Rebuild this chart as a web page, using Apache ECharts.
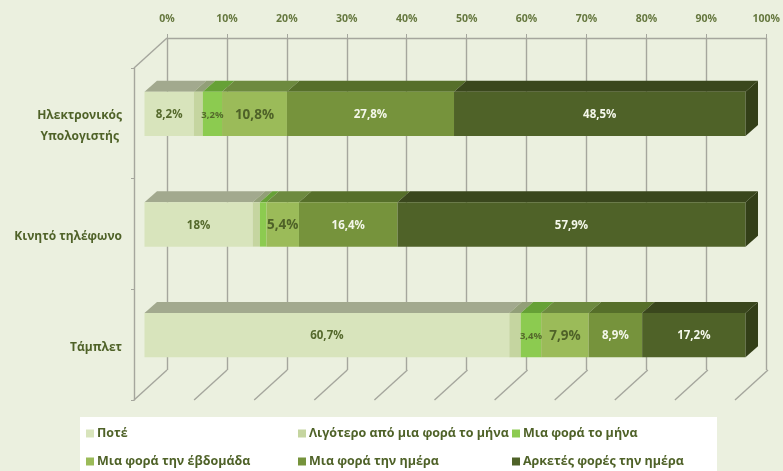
<!DOCTYPE html>
<html>
<head>
<meta charset="utf-8">
<script src="https://cdn.jsdelivr.net/npm/echarts@6/dist/echarts.min.js"></script>
<style>html,body{margin:0;padding:0;background:#ebf0df}#c{width:783px;height:471px}</style>
</head>
<body>
<div id="c"></div>
<script>
const categories = ['Ηλεκτρονικός\nΥπολογιστής\u00a0', 'Κινητό τηλέφωνο', 'Τάμπλετ'];
const xTicks = [0, 10, 20, 30, 40, 50, 60, 70, 80, 90, 100];
const never = [8.2, 18, 60.7];
const lessThanMonthly = [1.5, 1.2, 1.9];
const monthly = [3.2, 1.1, 3.4];
const weekly = [10.8, 5.4, 7.9];
const daily = [27.8, 16.4, 8.9];
const severalDaily = [48.5, 57.9, 17.2];
const labelled = [[true, true, true], [false, false, false], [true, false, true], [true, true, true], [true, true, true], [true, true, true]];
const names = ['Ποτέ', 'Λιγότερο από μια φορά το μήνα', 'Μια φορά το μήνα', 'Μια φορά την έβδομάδα', 'Μια φορά την ημέρα', 'Αρκετές φορές την ημέρα'];
const values = [never, lessThanMonthly, monthly, weekly, daily, severalDaily];
const front = ['#d8e4bc', '#c5d5a0', '#8ccb50', '#9bbb59', '#76933c', '#4f6228'];
const top_ = ['#a2a98e', '#929f78', '#66a136', '#6d8a3f', '#566f2a', '#3a471d'];
const labelColor = ['#55692c', '#55692c', '#55692c', '#4f6228', '#f4f7ea', '#f4f7ea'];
const labelSize = [11.5, 11.5, 9.5, 13.5, 11.5, 11.5];
const FONT = '"Open Sans", "Noto Sans", sans-serif';
const DX = 12.5, DY = 11, FX = 10.5, FY = 9.5;
const GRID_LINE = '#a5a69d';

function fmt(v) { return String(v).replace('.', ',') + '%'; }

const barSeries = names.map((name, s) => ({
  name, type: 'custom', xAxisIndex: 1, yAxisIndex: 1, z: 5,
  itemStyle: { color: front[s] },
  data: categories.map((c, i) => {
    let start = 0;
    for (let k = 0; k < s; k++) start += values[k][i];
    return [start, i, values[s][i], labelled[s][i] ? 1 : 0];
  }),
  encode: { x: 0, y: 1 },
  renderItem(params, api) {
    const x0v = api.value(0), cat = api.value(1), val = api.value(2), lab = api.value(3);
    const a = api.coord([x0v, cat]), b = api.coord([x0v + val, cat]);
    const h = api.size([0, 1])[1] * 0.4;
    const x0 = a[0] + FX, x1 = b[0] + FX, yt = a[1] - FY - h / 2, yb = yt + h;
    const children = [
      { type: 'polygon', shape: { points: [[x0, yt], [x1, yt], [x1 + DX, yt - DY], [x0 + DX, yt - DY]] }, style: { fill: top_[s] } },
      { type: 'rect', shape: { x: x0, y: yt, width: x1 - x0, height: h }, style: { fill: front[s] } }
    ];
    if (s === names.length - 1) {
      children.push({ type: 'polygon', shape: { points: [[x1, yt], [x1 + DX, yt - DY], [x1 + DX, yb - DY], [x1, yb]] }, style: { fill: '#333f18' } });
    }
    if (lab) {
      children.push({ type: 'text', z2: 10, style: { text: fmt(val), x: (x0 + x1) / 2, y: (yt + yb) / 2 + 1, align: 'center', verticalAlign: 'middle', fill: labelColor[s], font: '700 ' + labelSize[s] + 'px ' + FONT } });
    }
    return { type: 'group', children };
  }
}));

const frameSeries = {
  type: 'custom', xAxisIndex: 1, yAxisIndex: 1, z: 1, silent: true,
  data: xTicks.map(v => [v]),
  encode: { x: 0 },
  renderItem(params, api) {
    const v = api.value(0), cs = params.coordSys;
    const x = api.coord([v, 0])[0];
    const yb = cs.y + cs.height;
    const st = { stroke: GRID_LINE, lineWidth: 1.4 };
    const kids = [{ type: 'line', shape: { x1: x, y1: yb, x2: x + 33, y2: yb - 30 }, style: st }];
    if (v === 0) kids.push({ type: 'line', shape: { x1: x, y1: cs.y, x2: x + 33, y2: cs.y - 30 }, style: st });
    return { type: 'group', children: kids };
  }
};

const legendBase = { orient: 'vertical', padding: 0, itemWidth: 8, itemHeight: 8, itemGap: 15, icon: 'rect',
  textStyle: { color: '#4f6228', fontSize: 12.5, fontWeight: 700, fontFamily: FONT, padding: [0, 0, 0, -2] } };

const chart = echarts.init(document.getElementById('c'));
chart.setOption({
  animation: false,
  backgroundColor: '#ebf0df',
  graphic: [{ type: 'rect', z: -1, shape: { x: 80, y: 417, width: 637, height: 54 }, style: { fill: '#ffffff' } }],
  grid: [
    { left: 167, top: 38, width: 601, height: 332 },
    { left: 134, top: 68, width: 601, height: 332 },
    { left: 134, top: 71, width: 601, height: 332 }
  ],
  xAxis: [
    { type: 'value', gridIndex: 0, position: 'top', min: 0, max: 100, interval: 10,
      axisLine: { show: true, lineStyle: { color: GRID_LINE, width: 1.4 } }, axisTick: { show: true, length: 4, lineStyle: { color: GRID_LINE } },
      splitLine: { show: true, lineStyle: { color: GRID_LINE, width: 1.4 } },
      axisLabel: { formatter: '{value}%', color: '#66783f', fontSize: 10.5, fontWeight: 700, fontFamily: FONT, margin: 13 } },
    { type: 'value', gridIndex: 1, min: 0, max: 100, interval: 10, show: false },
    { type: 'value', gridIndex: 2, min: 0, max: 100, interval: 10, show: false }
  ],
  yAxis: [
    { type: 'category', gridIndex: 0, data: categories, inverse: true, show: false },
    { type: 'category', gridIndex: 1, data: categories, inverse: true,
      axisLine: { show: true, lineStyle: { color: GRID_LINE, width: 1.4 } },
      axisTick: { show: true, length: 3, lineStyle: { color: GRID_LINE } },
      splitLine: { show: false },
      axisLabel: { show: false } },
    { type: 'category', gridIndex: 2, data: categories, inverse: true,
      axisLine: { show: false }, axisTick: { show: false }, splitLine: { show: false },
      axisLabel: { color: '#4f6228', fontSize: 12, fontWeight: 700, fontFamily: FONT, margin: 12, lineHeight: 21 } }
  ],
  legend: [
    Object.assign({}, legendBase, { left: 86, top: 427, data: [names[0], names[3]] }),
    Object.assign({}, legendBase, { left: 298, top: 427, data: [names[1], names[4]] }),
    Object.assign({}, legendBase, { left: 512, top: 427, data: [names[2], names[5]] })
  ],
  series: [frameSeries].concat(barSeries)
});
</script>
</body>
</html>
